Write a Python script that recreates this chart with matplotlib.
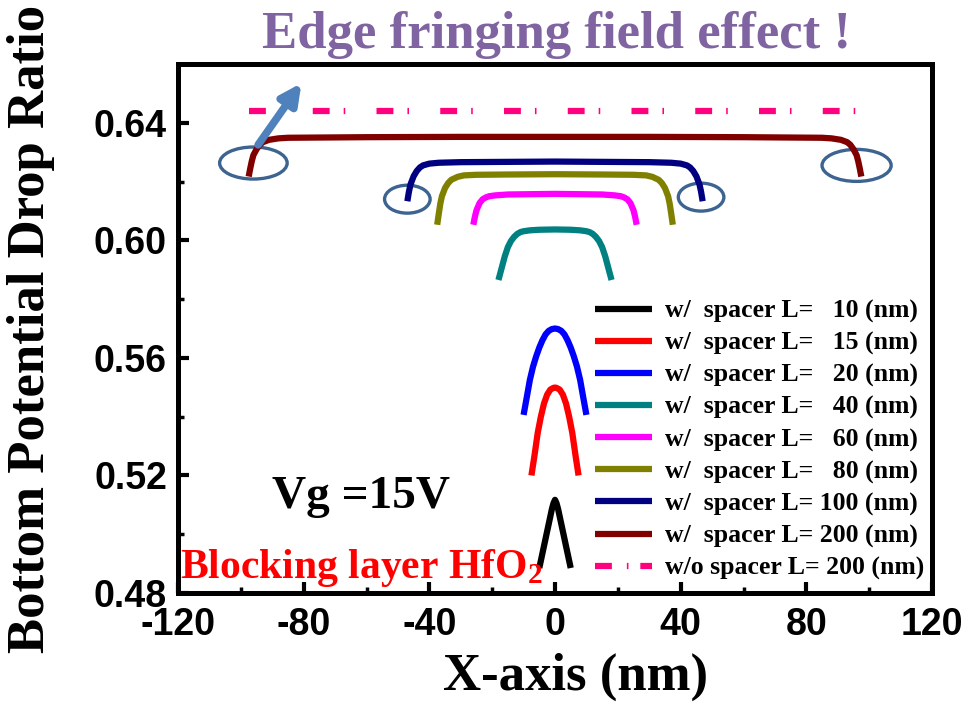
import matplotlib
matplotlib.use("Agg")
import matplotlib.pyplot as plt
from matplotlib.patches import Ellipse
from matplotlib.lines import Line2D
from matplotlib.ticker import MultipleLocator

plt.rcParams['axes.unicode_minus'] = False
plt.rcParams['mathtext.fontset'] = 'custom'
plt.rcParams['mathtext.rm'] = 'Liberation Serif:bold'
plt.rcParams['mathtext.bf'] = 'Liberation Serif:bold'
plt.rcParams['mathtext.default'] = 'rm'

# ---------------- data ----------------
x10 = [-5, -4, -3, -2, -1, -0.5, 0, 0.5, 1, 2, 3, 4, 5]
y10 = [0.4885, 0.4935, 0.4985, 0.5035, 0.5085, 0.5105, 0.5117, 0.5105, 0.5085, 0.5035, 0.4985, 0.4935, 0.4885]

x15 = [-7.5, -6.5, -5.5, -4.5, -3.5, -2.5, -1.5, -0.5, 0, 0.5, 1.5, 2.5, 3.5, 4.5, 5.5, 6.5, 7.5]
y15 = [0.520, 0.527, 0.5345, 0.540, 0.5445, 0.5475, 0.5492, 0.5498, 0.5499,
       0.5498, 0.5492, 0.5475, 0.5445, 0.540, 0.5345, 0.527, 0.520]

x20 = [-10, -9, -8, -7, -6, -5, -4, -3, -2, -1, 0, 1, 2, 3, 4, 5, 6, 7, 8, 9, 10]
y20 = [0.5406, 0.5465, 0.5525, 0.557, 0.5605, 0.5635, 0.566, 0.568, 0.5692, 0.5698, 0.570,
       0.5698, 0.5692, 0.568, 0.566, 0.5635, 0.5605, 0.557, 0.5525, 0.5465, 0.5406]

x40 = [-18, -17, -16, -15, -14, -13, -12, -11, -10, -8, -5, 0, 5, 8, 10, 11, 12, 13, 14, 15, 16, 17, 18]
y40 = [0.5865, 0.5905, 0.5945, 0.5977, 0.5998, 0.6012, 0.6022, 0.6028, 0.6031, 0.6034, 0.6036, 0.6037,
       0.6036, 0.6034, 0.6031, 0.6028, 0.6022, 0.6012, 0.5998, 0.5977, 0.5945, 0.5905, 0.5865]

x60 = [-26, -25.5, -25, -24, -23, -22, -21, -19, -15, -8, 0, 8, 15, 19, 21, 22, 23, 24, 25, 25.5, 26]
y60 = [0.6053, 0.608, 0.6102, 0.6127, 0.614, 0.6146, 0.615, 0.6153, 0.6156, 0.6157, 0.6158,
       0.6157, 0.6156, 0.6153, 0.615, 0.6146, 0.614, 0.6127, 0.6102, 0.608, 0.6053]

x80 = [-37.5, -37, -36.5, -36, -35, -34, -33, -31, -29, -25, -15, 0, 15, 25, 29, 31, 33, 34, 35, 36, 36.5, 37, 37.5]
y80 = [0.6053, 0.609, 0.6125, 0.615, 0.6178, 0.6195, 0.6206, 0.6216, 0.6221, 0.6223, 0.6224, 0.6225,
       0.6224, 0.6223, 0.6221, 0.6216, 0.6206, 0.6195, 0.6178, 0.615, 0.6125, 0.609, 0.6053]

x100 = [-47, -46.5, -46, -45, -44, -43, -42, -40, -37, -30, -15, 0, 15, 30, 37, 40, 42, 43, 44, 45, 46, 46.5, 47]
y100 = [0.6133, 0.6165, 0.619, 0.6218, 0.6236, 0.6248, 0.6255, 0.6261, 0.6264, 0.6266, 0.6267, 0.6268,
        0.6267, 0.6266, 0.6264, 0.6261, 0.6255, 0.6248, 0.6236, 0.6218, 0.619, 0.6165, 0.6133]

x200 = [-97.5, -97, -96.5, -96, -95, -94, -93, -91, -88, -85, -60, -30, 0, 30, 60, 85, 88, 91, 93, 94, 95, 96, 96.5, 97, 97.5]
y200 = [0.6217, 0.6245, 0.627, 0.629, 0.631, 0.6325, 0.6334, 0.6342, 0.6347, 0.6349, 0.6351, 0.6352, 0.6352,
        0.6352, 0.6351, 0.6349, 0.6347, 0.6342, 0.6334, 0.6325, 0.631, 0.629, 0.627, 0.6245, 0.6217]

x_nospacer = [-97.5, 96]
y_nospacer = [0.6440, 0.6440]

labels = ["w/  spacer L=   10 (nm)", "w/  spacer L=   15 (nm)", "w/  spacer L=   20 (nm)",
          "w/  spacer L=   40 (nm)", "w/  spacer L=   60 (nm)", "w/  spacer L=   80 (nm)",
          "w/  spacer L= 100 (nm)", "w/  spacer L= 200 (nm)", "w/o spacer L= 200 (nm)"]
colors = ["#000000", "#FF0000", "#0000FF", "#008080", "#FF00FF", "#808000", "#000080", "#800000", "#FF007F"]

# highlight ellipses (center x, center y, width, height)
ell_x = [-96, 96, -47, 46.5]
ell_y = [0.6263, 0.6255, 0.6140, 0.6147]
ell_w = [21.5, 22.0, 14.5, 14.5]
ell_h = [0.0109, 0.0109, 0.0095, 0.0095]

title_text = "Edge fringing field effect !"
xlabel_text = "X-axis (nm)"
ylabel_text = "Bottom Potential Drop Ratio"

# ---------------- figure ----------------
fig = plt.figure(figsize=(9.68, 7.04), dpi=100)
ax = fig.add_axes([178/968, 1-593/704, (932-178)/968, (593-64)/704])

series = [(x10, y10), (x15, y15), (x20, y20), (x40, y40), (x60, y60),
          (x80, y80), (x100, y100), (x200, y200)]
LW = 4.5
handles = []
for (xs, ys), c, lab in zip(series, colors[:8], labels[:8]):
    ln, = ax.plot(xs, ys, color=c, lw=LW, solid_capstyle='butt', solid_joinstyle='round', label=lab)
    handles.append(ln)

ln_ns, = ax.plot(x_nospacer, y_nospacer, color=colors[8], lw=LW,
                 dashes=(2.7, 2.25, 0.25, 5.0), dash_capstyle='butt', label=labels[8])
leg_ns = Line2D([], [], color=colors[8], lw=LW, dashes=(2.7, 2.4, 0.25, 1.9), dash_capstyle='butt')
handles.append(leg_ns)

for cx, cy, w, h in zip(ell_x, ell_y, ell_w, ell_h):
    ax.add_patch(Ellipse((cx, cy), w, h, fill=False, edgecolor='#3D6491', lw=2.4, zorder=1))

ax.annotate("", xy=(-80.7, 0.6535), xytext=(-94.5, 0.6325),
            arrowprops=dict(arrowstyle='-|>,head_length=0.6,head_width=0.3', color='#4F81BD',
                            lw=5.5, mutation_scale=20, shrinkA=0, shrinkB=0, capstyle='round'))

ax.set_xlim(-120, 120)
ax.set_ylim(0.48, 0.66)
ax.xaxis.set_major_locator(MultipleLocator(40))
ax.xaxis.set_minor_locator(MultipleLocator(20))
ax.yaxis.set_major_locator(MultipleLocator(0.04))
ax.yaxis.set_minor_locator(MultipleLocator(0.02))
ax.yaxis.set_major_formatter(matplotlib.ticker.FormatStrFormatter('%.2f'))
ax.tick_params(which='major', direction='in', length=8, width=3, labelsize=27, pad=8)
ax.tick_params(axis='x', which='major', pad=10)
ax.tick_params(which='minor', direction='in', length=4, width=2.5)
for t in ax.get_xticklabels() + ax.get_yticklabels():
    t.set_fontfamily('Liberation Sans')
    t.set_fontweight('bold')
for s in ax.spines.values():
    s.set_linewidth(3.6)

ax.set_xlabel(xlabel_text, fontfamily='Liberation Serif', fontweight='bold', fontsize=38)
ax.xaxis.set_label_coords(0.527, -0.112)
ax.set_ylabel(ylabel_text, fontfamily='Liberation Serif', fontweight='bold', fontsize=38)
ax.yaxis.set_label_coords(-0.163, 0.5)

fig.text(557/968, 1-48/704, title_text, color='#8064A2', fontfamily='Liberation Serif',
         fontweight='bold', fontsize=38, ha='center', va='baseline')

ax.text(-61.6, 0.5127, "Vg =15V", fontfamily='Liberation Serif', fontweight='bold', fontsize=34,
        ha='center', va='center', color='black')
ax.text(-119.5, 0.4851, "Blocking layer HfO$_2$", fontfamily='Liberation Serif', fontweight='bold',
        fontsize=30, ha='left', va='baseline', color='#FF0000')

leg = ax.legend(handles=handles, labels=labels, loc='lower right', bbox_to_anchor=(1.01, -0.005),
                frameon=False, prop=dict(family='Liberation Serif', weight='bold', size=18.5),
                handlelength=2.2, handletextpad=0.5, labelspacing=0.34, borderaxespad=0.2)

fig.savefig("out.png", dpi=100)
